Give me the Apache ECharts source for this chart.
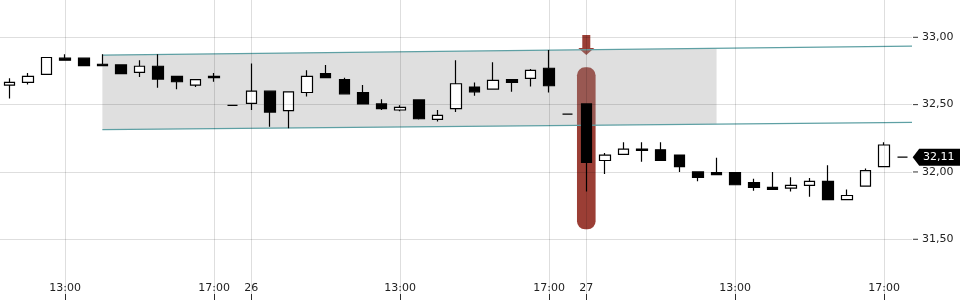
<!DOCTYPE html>
<html>
<head>
<meta charset="utf-8">
<script src="https://cdn.jsdelivr.net/npm/echarts@6/dist/echarts.min.js"></script>
<style>html,body{margin:0;padding:0;background:#fff}#c{width:960px;height:300px}</style>
</head>
<body>
<div id="c"></div>
<script>
// 30-minute bars, day 25 (from 11:30), day 26 and day 27
const categories = [
  '25 11:30','25 12:00','25 12:30','25 13:00','25 13:30','25 14:00','25 14:30','25 15:00','25 15:30','25 16:00','25 16:30','25 17:00','25 17:30',
  '26 09:00','26 09:30','26 10:00','26 10:30','26 11:00','26 11:30','26 12:00','26 12:30','26 13:00','26 13:30','26 14:00','26 14:30','26 15:00','26 15:30','26 16:00','26 16:30','26 17:00','26 17:30',
  '27 09:00','27 09:30','27 10:00','27 10:30','27 11:00','27 11:30','27 12:00','27 12:30','27 13:00','27 13:30','27 14:00','27 14:30','27 15:00','27 15:30','27 16:00','27 16:30','27 17:00','27 17:30'
];
const opens  = [32.645,32.665,32.725,32.845,32.845,32.800,32.795,32.740,32.785,32.710,32.645,32.710,32.495,
                32.510,32.600,32.455,32.590,32.730,32.685,32.590,32.505,32.460,32.535,32.390,32.470,32.630,32.615,32.685,32.695,32.770,32.430,
                32.505,32.085,32.130,32.170,32.165,32.125,32.000,31.995,31.995,31.920,31.885,31.880,31.900,31.930,31.795,31.895,32.040,32.110];
const closes = [32.665,32.710,32.850,32.830,32.790,32.790,32.730,32.785,32.690,32.670,32.685,32.700,32.495,
                32.600,32.445,32.595,32.710,32.700,32.580,32.505,32.470,32.480,32.395,32.420,32.655,32.595,32.680,32.665,32.755,32.640,32.430,
                32.070,32.125,32.170,32.160,32.085,32.040,31.960,31.980,31.905,31.885,31.870,31.900,31.930,31.795,31.825,32.010,32.200,32.110];
const lows   = [32.545,32.650,32.725,32.830,32.790,32.790,32.730,32.705,32.625,32.615,32.630,32.670,32.495,
                32.460,32.335,32.325,32.560,32.700,32.580,32.500,32.460,32.450,32.390,32.375,32.445,32.565,32.615,32.595,32.635,32.590,32.430,
                31.855,31.985,32.130,32.075,32.085,32.000,31.930,31.980,31.905,31.860,31.870,31.855,31.815,31.795,31.795,31.895,32.040,32.110];
const highs  = [32.695,32.735,32.850,32.875,32.845,32.875,32.795,32.830,32.875,32.710,32.690,32.735,32.495,
                32.805,32.600,32.595,32.755,32.795,32.700,32.645,32.540,32.495,32.535,32.460,32.830,32.665,32.815,32.685,32.765,32.905,32.430,
                32.505,32.140,32.220,32.220,32.220,32.125,32.000,32.105,31.995,31.950,32.000,31.960,31.955,32.050,31.870,32.025,32.220,32.110];

const labelIndex = [3, 11, 13, 21, 29, 31, 39, 47];
const labelText  = ['13:00', '17:00', '26', '13:00', '17:00', '27', '13:00', '17:00'];
const yTicks = [31.5, 32.0, 32.5, 33.0];
const yRange = [31.049, 33.277];

// channel (trend lines) and zone
const upperLine = [[5, 32.868], [48.5, 32.935]];
const lowerLine = [[5, 32.314], [48.5, 32.368]];
const zoneRange = [5, 38];
// highlighted bar and arrow: [index, top, bottom]
const highlight = [[31, 32.777, 31.574]];
const arrow = [[31, 33.017, 32.920, 32.869]];
const lastPrice = 32.11;

const FONT = 'DejaVu Sans';
const GRID_COLOR = 'rgba(0,0,0,0.13)';
const fmt = v => v.toFixed(2).replace('.', ',');

function lineAt(line, x) {
  const [a, b] = line;
  return a[1] + (b[1] - a[1]) * (x - a[0]) / (b[0] - a[0]);
}
const zonePoly = [
  [zoneRange[0], lineAt(upperLine, zoneRange[0])],
  [zoneRange[1], lineAt(upperLine, zoneRange[1])],
  [zoneRange[1], lineAt(lowerLine, zoneRange[1])],
  [zoneRange[0], lineAt(lowerLine, zoneRange[0])]
];

const candleData = categories.map((c, i) => [opens[i], closes[i], lows[i], highs[i]]);

const chart = echarts.init(document.getElementById('c'), null, {renderer: 'canvas'});
chart.setOption({
  animation: false,
  backgroundColor: '#fff',
  grid: {left: 0, right: 48, top: 0, bottom: 0, containLabel: false},
  xAxis: [{
    type: 'category',
    data: categories,
    boundaryGap: true,
    position: 'bottom',
    axisLine: {show: false},
    axisTick: {show: true, inside: true, length: 6, alignWithLabel: true,
      interval: (i) => labelIndex.includes(i), lineStyle: {color: '#333', width: 1}},
    axisLabel: {show: true, inside: true, margin: 6, interval: (i) => labelIndex.includes(i),
      formatter: (v, i) => { const k = labelIndex.indexOf(i); return k >= 0 ? labelText[k] : ''; },
      color: '#222', fontSize: 11, fontFamily: FONT},
    splitLine: {show: false}
  }, {
    type: 'value',
    min: -0.5, max: categories.length - 0.5,
    show: false,
    splitLine: {show: false}
  }],
  yAxis: {
    type: 'value',
    position: 'right',
    min: yRange[0], max: yRange[1],
    axisLine: {show: false},
    axisTick: {show: false},
    axisLabel: {show: true, margin: 1, customValues: yTicks,
      formatter: v => '{t|}{v|' + fmt(v) + '}',
      rich: {
        t: {width: 5, height: 1, backgroundColor: '#333'},
        v: {padding: [0, 0, 0, 4], color: '#222', fontSize: 11, fontFamily: FONT}
      },
      color: '#222', fontSize: 11, fontFamily: FONT},
    splitLine: {show: false}
  },
  series: [
    {
      // grid lines
      type: 'line', xAxisIndex: 1, data: [], z: 0, silent: true,
      markLine: {
        silent: true, symbol: 'none', animation: false,
        label: {show: false},
        lineStyle: {color: GRID_COLOR, width: 1, type: 'solid'},
        emphasis: {disabled: true},
        data: labelIndex.map(i => ({xAxis: i})).concat(yTicks.map(v => ({yAxis: v})))
      }
    },
    {
      // highlight capsule
      type: 'custom', xAxisIndex: 0, z: 1, silent: true,
      data: highlight,
      renderItem: (params, api) => {
        const top = api.coord([api.value(0), api.value(1)]);
        const bot = api.coord([api.value(0), api.value(2)]);
        const w = api.size([1, 0])[0];
        return {type: 'rect', shape: {x: top[0] - w / 2, y: top[1], width: w, height: bot[1] - top[1], r: 8},
          style: {fill: 'rgba(139,30,20,0.86)'}};
      }
    },
    {
      // arrow
      type: 'custom', xAxisIndex: 0, z: 1, silent: true,
      data: arrow,
      renderItem: (params, api) => {
        const t = api.coord([api.value(0), api.value(1)]);
        const b = api.coord([api.value(0), api.value(2)]);
        const tip = api.coord([api.value(0), api.value(3)]);
        const x = t[0];
        return {type: 'polygon', shape: {points: [
          [x - 4, t[1]], [x + 4, t[1]], [x + 4, b[1]], [x + 8, b[1]], [x, tip[1]], [x - 8, b[1]], [x - 4, b[1]]
        ]}, style: {fill: 'rgba(139,30,20,0.86)'}};
      }
    },
    {
      // shaded zone
      type: 'custom', xAxisIndex: 1, z: 2, silent: true,
      data: [0],
      renderItem: (params, api) => ({
        type: 'polygon',
        shape: {points: zonePoly.map(p => api.coord(p))},
        style: {fill: 'rgba(150,150,150,0.3)'}
      })
    },
    {
      type: 'line', xAxisIndex: 1, z: 3, silent: true, data: upperLine,
      showSymbol: false, symbol: 'none', lineStyle: {color: '#5ea0a4', width: 1.3}
    },
    {
      type: 'line', xAxisIndex: 1, z: 3, silent: true, data: lowerLine,
      showSymbol: false, symbol: 'none', lineStyle: {color: '#5ea0a4', width: 1.3}
    },
    {
      type: 'candlestick', xAxisIndex: 0, z: 4,
      data: candleData,
      barWidth: 11,
      itemStyle: {color: '#ffffff', color0: '#000000', borderColor: '#000000', borderColor0: '#000000', borderColorDoji: '#000000', borderWidth: 1.2},
      markPoint: {
        silent: true, animation: false,
        data: [{
          coord: [categories.length - 1, lastPrice],
          value: lastPrice,
          symbol: 'path://M0,8.5 L6.5,0 L48,0 L48,17 L6.5,17 Z',
          symbolSize: [48, 17],
          symbolKeepAspect: false,
          symbolOffset: [34, 0],
          itemStyle: {color: '#000'},
          label: {show: true, position: 'inside', offset: [2, 0], formatter: () => fmt(lastPrice),
            color: '#fff', fontSize: 11, fontFamily: FONT}
        }]
      }
    }
  ]
});
</script>
</body>
</html>
